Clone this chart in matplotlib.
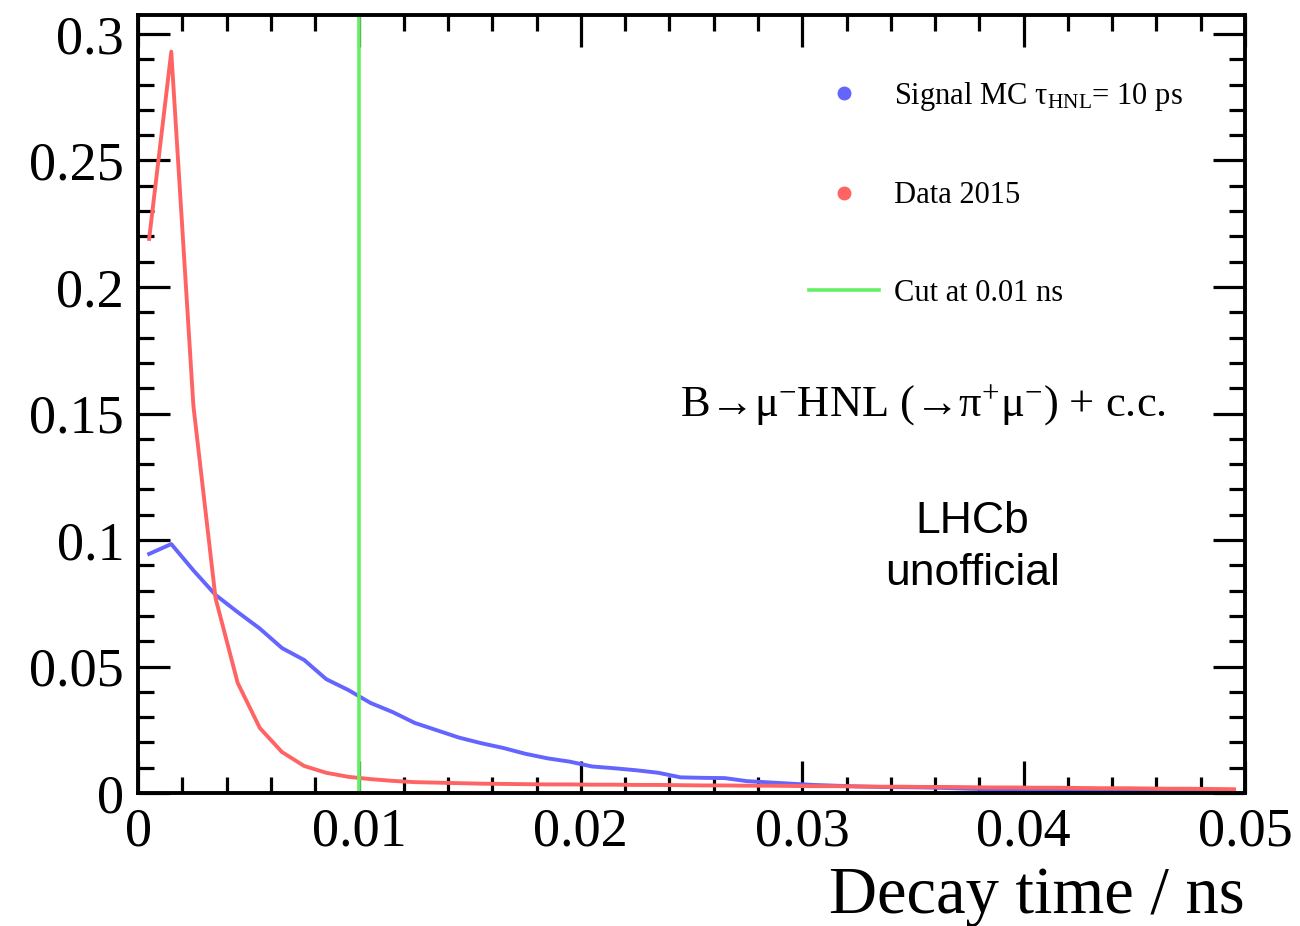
import numpy as np
import matplotlib
matplotlib.use("Agg")
import matplotlib.pyplot as plt
from matplotlib.lines import Line2D
from matplotlib.ticker import MultipleLocator, FormatStrFormatter

plt.rcParams['font.family'] = ['Liberation Serif', 'DejaVu Serif']
plt.rcParams['mathtext.default'] = 'regular'

# decay time histogram, 50 bins of 0.001 ns, drawn through bin centres
bin_width = 0.001
n_bins = 50
bin_centres = np.arange(n_bins) * bin_width + bin_width / 2

# Signal MC, tau_HNL = 10 ps (normalised)
signal_mc = [0.0945, 0.0984, 0.0880, 0.0783, 0.0715, 0.0650, 0.0573, 0.0526, 0.0450, 0.0407,
             0.0356, 0.0320, 0.0277, 0.0248, 0.0219, 0.0197, 0.0178, 0.0155, 0.0137, 0.0124,
             0.0105, 0.0098, 0.0090, 0.0080, 0.0062, 0.0060, 0.0059, 0.0047, 0.0042, 0.0037,
             0.0032, 0.0029, 0.0026, 0.0024, 0.0023, 0.0022, 0.0020, 0.0017, 0.0015, 0.0014,
             0.0013, 0.0012, 0.0012, 0.0011, 0.0011, 0.0010, 0.0010, 0.0009, 0.0009, 0.0008]

# Data 2015 (normalised)
data_2015 = [0.2190, 0.2930, 0.1530, 0.0770, 0.0435, 0.0257, 0.0162, 0.0107, 0.0080, 0.0064,
             0.0055, 0.0048, 0.0043, 0.0041, 0.0039, 0.0037, 0.0036, 0.0035, 0.0034, 0.0034,
             0.0033, 0.0033, 0.0032, 0.0032, 0.0031, 0.0030, 0.0030, 0.0029, 0.0029, 0.0028,
             0.0027, 0.0027, 0.0026, 0.0025, 0.0025, 0.0024, 0.0024, 0.0023, 0.0022, 0.0022,
             0.0021, 0.0021, 0.0020, 0.0019, 0.0019, 0.0018, 0.0017, 0.0017, 0.0016, 0.0015]

cut_value = 0.01

blue = '#6464ff'
red = '#ff6464'
green = '#64f064'

fig = plt.figure(figsize=(13, 9.26), dpi=100)
ax = fig.add_axes([0.1062, 0.1436, 0.8515, 0.8402])

ax.plot(bin_centres, signal_mc, color=blue, lw=2.8)
ax.plot(bin_centres, data_2015, color=red, lw=2.8)
ax.axvline(cut_value, color=green, lw=2.6)

ax.set_xlim(0, 0.05)
ax.set_ylim(0, 0.3075)

ax.xaxis.set_major_locator(MultipleLocator(0.01))
ax.xaxis.set_minor_locator(MultipleLocator(0.002))
ax.yaxis.set_major_locator(MultipleLocator(0.05))
ax.yaxis.set_minor_locator(MultipleLocator(0.01))
ax.xaxis.set_major_formatter(FormatStrFormatter('%g'))
ax.yaxis.set_major_formatter(FormatStrFormatter('%g'))

for s in ax.spines.values():
    s.set_linewidth(2.8)
ax.tick_params(which='both', direction='in', top=True, right=True, width=2.3, labelsize=39)
ax.tick_params(which='major', length=23)
ax.tick_params(which='minor', length=11.5)
ax.tick_params(axis='x', pad=10)
ax.tick_params(axis='y', pad=10)

ax.set_xlabel('Decay time / ns', fontsize=48, loc='right', labelpad=6)

handles = [Line2D([], [], color=blue, marker='o', ls='none', markersize=9),
           Line2D([], [], color=red, marker='o', ls='none', markersize=9),
           Line2D([], [], color=green, lw=2.6)]
labels = [r'Signal MC τ$_{HNL}$= 10 ps', 'Data 2015', 'Cut at 0.01 ns']
ax.legend(handles, labels, loc='upper left', bbox_to_anchor=(0.606, 0.917),
          frameon=False, fontsize=22, labelspacing=2.25, handlelength=2.3,
          handletextpad=0.5, borderpad=0, borderaxespad=0)

ax.text(0.0245, 0.149, r'B→μ$^{-}$HNL (→π$^{+}$μ$^{-}$) + c.c.',
        fontsize=32, ha='left', va='baseline')
ax.text(0.0377, 0.1028, 'LHCb', fontsize=32, ha='center', va='baseline',
        family=['Liberation Sans', 'DejaVu Sans'])
ax.text(0.0377, 0.0822, 'unofficial', fontsize=32, ha='center', va='baseline',
        family=['Liberation Sans', 'DejaVu Sans'])

fig.savefig('out.png', dpi=100)
